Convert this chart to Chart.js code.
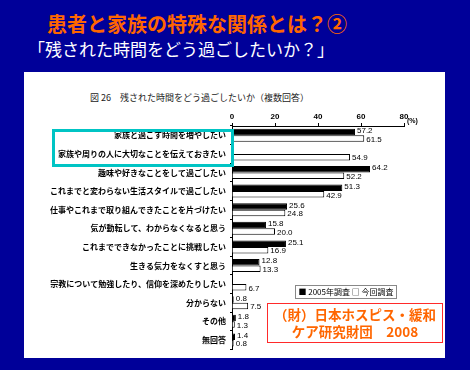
<!DOCTYPE html>
<html lang="ja">
<head>
<meta charset="UTF-8" />
<title>残された時間をどう過ごしたいか</title>
<script src="https://cdn.jsdelivr.net/npm/chart.js"></script>
<style>
  body {
    margin: 0;
    width: 470px;
    height: 370px;
    background: #000099;
    position: relative;
    overflow: hidden;
    font-family: "Noto Sans CJK JP", sans-serif;
  }
  .title {
    position: absolute;
    left: 47px;
    top: 9px;
    color: #ff6600;
    font-size: 20px;
    font-weight: bold;
    white-space: nowrap;
  }
  .subtitle {
    position: absolute;
    left: 28px;
    top: 36px;
    color: #fff;
    font-size: 17px;
    white-space: nowrap;
  }
  .panel {
    position: absolute;
    left: 24px;
    top: 72px;
    width: 421px;
    height: 286px;
    background: #fff;
  }
  .caption {
    position: absolute;
    left: 66px;
    top: 19px;
    font-size: 9px;
    color: #222;
    white-space: nowrap;
  }
  canvas { position: absolute; left: 0; top: 0; }
  .highlight {
    position: absolute;
    left: 28px;
    top: 57px;
    width: 182px;
    height: 38px;
    border: 3px solid #00c4c4;
    box-sizing: border-box;
  }
  .legend {
    position: absolute;
    left: 271px;
    top: 213px;
    width: 102px;
    height: 14px;
    border: 1px solid #888;
    box-sizing: border-box;
    font-size: 8px;
    line-height: 12px;
    text-align: center;
    color: #000;
    white-space: nowrap;
  }
  .source {
    position: absolute;
    left: 243px;
    top: 231px;
    width: 176px;
    height: 40px;
    border: 1.5px solid #ff2a2a;
    box-sizing: border-box;
    color: #ff6600;
    font-size: 13.5px;
    font-weight: bold;
    line-height: 17px;
    text-align: center;
    padding-top: 2px;
  }
</style>
</head>
<body>
  <div class="title">患者と家族の特殊な関係とは？②</div>
  <div class="subtitle">「残された時間をどう過ごしたいか？」</div>

  <div class="panel">
    <div class="caption">図 26　残された時間をどう過ごしたいか（複数回答）</div>
    <canvas id="chart" width="421" height="286"></canvas>
    <div class="highlight"></div>
    <div class="legend">■ 2005年調査 □ 今回調査</div>
    <div class="source">（財）日本ホスピス・緩和<br>ケア研究財団　2008</div>
  </div>

  <script>
    const categories = [
      '家族と過ごす時間を増やしたい',
      '家族や周りの人に大切なことを伝えておきたい',
      '趣味や好きなことをして過ごしたい',
      'これまでと変わらない生活スタイルで過ごしたい',
      '仕事やこれまで取り組んできたことを片づけたい',
      '気が動転して、わからなくなると思う',
      'これまでできなかったことに挑戦したい',
      '生きる気力をなくすと思う',
      '宗教について勉強したり、信仰を深めたりしたい',
      '分からない',
      'その他',
      '無回答'
    ];
    const seriesNames = ['2005年調査', '今回調査'];
    const survey2005 = [57.2, null, 64.2, 51.3, 25.6, 15.8, 25.1, 12.8, null, 0.8, 1.8, 1.4];
    const surveyNow = [61.5, 54.9, 52.2, 42.9, 24.8, 20.0, 16.9, 13.3, 6.7, 7.5, 1.3, 0.8];
    const xTicks = [0, 20, 40, 60, 80];

    // numbers at the end of each bar, plus the (%) unit
    const valueLabels = {
      id: 'valueLabels',
      afterDatasetsDraw(chart) {
        const ctx = chart.ctx;
        ctx.save();
        ctx.font = '8px "Liberation Sans", sans-serif';
        ctx.fillStyle = '#000';
        ctx.textBaseline = 'middle';
        chart.data.datasets.forEach((ds, i) => {
          chart.getDatasetMeta(i).data.forEach((bar, j) => {
            const v = ds.data[j];
            if (v == null) return;
            ctx.fillText(v.toFixed(1), bar.x + 2, bar.y + (i === 0 ? -1 : 1));
          });
        });
        const xs = chart.scales.x;
        ctx.font = 'bold 7px "Liberation Sans", sans-serif';
        ctx.fillText('(%)', xs.getPixelForValue(80) + 3, xs.bottom - 5);
        ctx.restore();
      }
    };

    new Chart(document.getElementById('chart'), {
      type: 'bar',
      data: {
        labels: categories,
        datasets: [
          {
            label: seriesNames[0],
            data: survey2005,
            backgroundColor: '#000',
            borderColor: '#000',
            borderWidth: 1
          },
          {
            label: seriesNames[1],
            data: surveyNow,
            backgroundColor: '#fff',
            borderColor: '#000',
            borderWidth: 1
          }
        ]
      },
      options: {
        indexAxis: 'y',
        responsive: false,
        animation: false,
        categoryPercentage: 0.7,
        barPercentage: 1.0,
        layout: { padding: { left: 0, right: 41, top: 38, bottom: 6 } },
        plugins: {
          legend: { display: false },
          tooltip: { enabled: false }
        },
        scales: {
          x: {
            position: 'top',
            min: 0,
            max: 80,
            afterBuildTicks: s => { s.ticks = xTicks.map(v => ({ value: v })); },
            afterFit: s => { s.height = 16; },
            ticks: {
              color: '#000',
              padding: 1,
              font: { size: 8, weight: 'bold', family: '"Liberation Sans", sans-serif' }
            },
            grid: { drawOnChartArea: false, tickLength: 3, color: '#000' },
            border: { color: '#000', width: 1 }
          },
          y: {
            afterFit: s => { s.width = 208; },
            ticks: {
              color: '#000',
              padding: 4,
              autoSkip: false,
              font: { size: 8, weight: 'bold', family: '"Noto Sans CJK JP", sans-serif' }
            },
            grid: { drawOnChartArea: false, tickLength: 2, color: '#000' },
            border: { color: '#000', width: 1 }
          }
        }
      },
      plugins: [valueLabels]
    });
  </script>
</body>
</html>
